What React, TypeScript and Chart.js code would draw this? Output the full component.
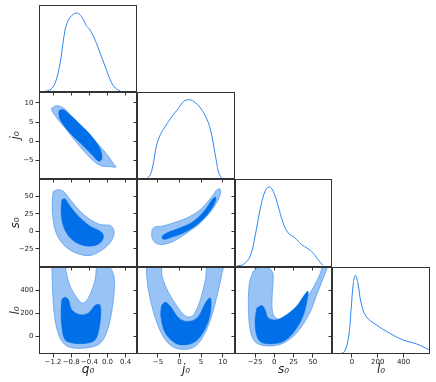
import React, { useEffect, useRef } from 'react';
import { Chart, registerables } from 'chart.js';
Chart.register(...registerables);

// ---- parameters ----
const paramLabels = ['q₀', 'j₀', 's₀', 'l₀'];
const qRange = [-1.51, 0.651];
const jRange = [-9.85, 12.86];
const sRange = [-51.1, 74.9];
const lRange = [-155, 605];
const qTicks = [-1.2, -0.8, -0.4, 0.0, 0.4];
const jTicks = [-5, 0, 5, 10];
const sTicks = [-25, 0, 25, 50];
const lTicks = [0, 200, 400];
const paramRanges = [qRange, jRange, sRange, lRange];
const paramTicks = [qTicks, jTicks, sTicks, lTicks];
const paramDecimals = [1, 0, 0, 0];

// ---- 1D marginals ----
const qGrid = [-1.377, -1.267, -1.156, -1.045, -0.972, -0.897, -0.787, -0.663, -0.565, -0.47, -0.382, -0.271, -0.16, -0.05, 0.061, 0.171, 0.282];
const qDensity = [0.007, 0.026, 0.1, 0.33, 0.596, 0.786, 0.88, 0.907, 0.861, 0.767, 0.71, 0.596, 0.444, 0.292, 0.14, 0.046, 0.011];
const jGrid = [-7.69, -6.76, -5.98, -5.37, -4.44, -3.28, -1.72, -0.19, 0.97, 2.13, 3.29, 4.85, 6.24, 7.17, 7.94, 8.56, 9.1, 9.88];
const jDensity = [0, 0.049, 0.202, 0.375, 0.509, 0.605, 0.72, 0.816, 0.892, 0.911, 0.892, 0.816, 0.701, 0.567, 0.375, 0.202, 0.069, 0];
const sGrid = [-48.5, -40.0, -31.4, -25.0, -18.5, -12.1, -6.6, -1.4, 5.0, 11.4, 17.9, 26.5, 35.1, 43.6, 50.1, 56.5, 62.9];
const sDensity = [0.011, 0.031, 0.124, 0.351, 0.653, 0.86, 0.91, 0.86, 0.69, 0.502, 0.389, 0.333, 0.257, 0.208, 0.163, 0.087, 0.019];
const lGrid = [-98, -59, -26, -7, 11, 27, 45, 71, 110, 188, 292, 395, 500, 603];
const lDensity = [0, 0.027, 0.2, 0.51, 0.82, 0.904, 0.82, 0.587, 0.432, 0.336, 0.24, 0.162, 0.116, 0.046];
const marginals = [[qGrid, qDensity], [jGrid, jDensity], [sGrid, sDensity], [lGrid, lDensity]];

// ---- 2D contours (outer = 95%, inner = 68%) ----
const qjOuter = [[-1.229, 8.7], [-1.118, 9.3], [-0.972, 8.7], [-0.787, 6.52], [-0.53, 3.5], [-0.233, -0.4], [-0.012, -3.44], [0.171, -6.48], [0.194, -6.74], [0.061, -6.64], [-0.16, -6.3], [-0.382, -4.3], [-0.676, -0.4], [-0.935, 3.5], [-1.118, 6.1], [-1.229, 8.08]];
const qjInner = [[-1.061, 8.08], [-0.972, 8.26], [-0.862, 7.22], [-0.641, 4.8], [-0.382, 1.76], [-0.16, -2.04], [-0.123, -4.64], [-0.198, -5.18], [-0.344, -3.44], [-0.603, -0.4], [-0.862, 2.62], [-1.045, 5.66], [-1.074, 7.4]];
const qsOuter = [[-1.194, 57.2], [-1.083, 59.6], [-0.972, 57.2], [-0.824, 45.4], [-0.603, 28.7], [-0.382, 16.9], [-0.16, 9.7], [0.061, 8.3], [0.134, 2.6], [0.134, -6.9], [0.023, -18.8], [-0.16, -28.3], [-0.382, -34.5], [-0.603, -33.0], [-0.897, -23.5], [-1.118, -4.5], [-1.207, 21.6], [-1.216, 45.4]];
const qsInner = [[-1.008, 45.4], [-0.935, 46.4], [-0.824, 35.8], [-0.641, 21.6], [-0.382, 7.3], [-0.16, 0.2], [-0.087, -6.9], [-0.16, -16.4], [-0.344, -21.2], [-0.603, -18.8], [-0.824, -9.2], [-0.972, 7.3], [-1.023, 26.4]];
const qlOuter = [[-1.229, 650], [-1.207, 379.6], [-1.156, 144.6], [-1.045, -16.5], [-0.897, -84.3], [-0.676, -104.5], [-0.382, -95.7], [-0.16, -60.5], [-0.012, 41.6], [0.1, 232.6], [0.156, 452.7], [0.134, 540.7], [0.061, 599.7], [0.017, 650], [-0.205, 650], [-0.271, 496.7], [-0.382, 364.7], [-0.493, 296.9], [-0.565, 291.6], [-0.676, 335.6], [-0.824, 437.7], [-0.913, 567], [-0.935, 650]];
const qlInner = [[-1.008, 320.7], [-0.935, 340.9], [-0.862, 320.7], [-0.787, 232.6], [-0.603, 188.6], [-0.419, 203.6], [-0.271, 270.5], [-0.176, 276.7], [-0.145, 232.6], [-0.176, 85.6], [-0.271, -31.4], [-0.455, -60.5], [-0.751, -60.5], [-0.935, -31.4], [-1.008, 85.6], [-1.023, 232.6]];
const jsOuter = [[-6.37, 2.6], [-5.6, 6.5], [-4.05, 7.3], [-1.35, 12.2], [1.76, 19.3], [4.85, 31.1], [7.56, 50.1], [8.86, 60.6], [9.49, 59.6], [9.33, 50.1], [7.56, 31.1], [4.85, 12.2], [1.76, -2.1], [-1.35, -14.1], [-4.05, -18.8], [-5.6, -16.4], [-6.37, -9.2]];
const jsInner = [[-4.05, -6.9], [-2.88, -2.1], [0.2, 5.0], [3.29, 14.4], [6.01, 31.1], [7.56, 45.4], [8.33, 49.2], [8.33, 42.9], [6.77, 26.4], [4.08, 9.7], [0.97, -2.1], [-2.12, -9.2], [-3.67, -11.7], [-4.05, -9.2]];
const jlOuter = [[-7.69, 655], [-7.53, 496.7], [-6.76, 320.7], [-5.21, 115.6], [-3.28, -31.4], [-1.35, -95.7], [0.97, -113.3], [3.29, -95.7], [5.24, -16.5], [7.17, 144.6], [8.86, 379.6], [9.88, 555.7], [10.26, 655], [6.77, 655], [6.01, 496.7], [4.85, 320.7], [3.29, 188.6], [2.13, 168.4], [0.97, 188.6], [-0.56, 261.7], [-2.51, 379.6], [-4.05, 525.8], [-4.44, 655]];
const jlInner = [[-4.05, 276.7], [-3.28, 296.9], [-2.12, 261.7], [-0.19, 159.6], [1.76, 129.6], [4.08, 159.6], [6.01, 291.6], [7.01, 335.6], [7.33, 305.7], [7.01, 173.7], [5.61, 41.6], [3.69, -46.4], [1.36, -75.5], [-0.96, -60.5], [-3.28, 27.5], [-4.28, 159.6], [-4.28, 247.6]];
const slOuter = [[-27.2, 569.8], [-21.1, 598], [-12.1, 602], [-5.0, 584.8], [-1.8, 540.7], [-1.8, 452.7], [-3.1, 320.7], [-1.8, 197.4], [4.6, 149], [12.4, 144.6], [21.4, 179.8], [33.0, 250.2], [45.9, 373.5], [56.2, 496.7], [61.3, 584.8], [63.8, 655], [70.3, 655], [69.0, 602], [61.3, 470.3], [54.4, 349.7], [45.9, 203.6], [28.7, 27.5], [11.4, -60.5], [-5.7, -84.3], [-22.8, -60.5], [-30.5, 27.5], [-33.6, 232.6], [-32.3, 467.7]];
const slInner = [[-22.8, 247.6], [-16.3, 267.9], [-12.1, 232.6], [-7.9, 159.6], [3.0, 144.6], [15.8, 188.6], [28.7, 261.7], [39.4, 364.7], [43.6, 393.7], [43.6, 349.7], [37.2, 173.7], [24.3, 27.5], [11.4, -46.4], [-5.7, -66.6], [-18.5, -46.4], [-23.7, 27.5], [-25.0, 144.6]];
const contours: any = {
  '1,0': [qjOuter, qjInner],
  '2,0': [qsOuter, qsInner],
  '3,0': [qlOuter, qlInner],
  '2,1': [jsOuter, jsInner],
  '3,1': [jlOuter, jlInner],
  '3,2': [slOuter, slInner],
};

// ---- layout & style ----
const COL_X = [39, 137, 235, 332, 430];
const ROW_Y = [5, 92, 179, 267, 354];
const LEFT = 39;
const PAD = 8;
const BOTTOM = 28;
const AX = '#333333';
const TXT = '#222222';
const LINE = '#2a86ee';
const LIGHT = '#99c3f5';
const EDGE = '#5b9ef0';
const DARK = '#006fe8';
const tickFont = { family: 'DejaVu Sans', size: 7 };
const titleFont = { family: 'DejaVu Sans', size: 12, style: 'italic' as const };

const fmt = (v: number, d: number) => (d ? v.toFixed(d) : String(v)).replace('-', '\u2212');

const framePlugin = {
  id: 'frame',
  afterDraw(chart: any) {
    const { ctx, chartArea } = chart;
    const l = Math.round(chartArea.left) + 0.5;
    const t = Math.round(chartArea.top) + 0.5;
    const r = Math.round(chartArea.right) - 0.5;
    const b = Math.round(chartArea.bottom) - 0.5;
    ctx.save();
    ctx.strokeStyle = AX;
    ctx.lineWidth = 1;
    ctx.strokeRect(l, t, r - l, b - t);
    ctx.restore();
  },
};

const gridOpts = { display: true, drawOnChartArea: false, drawTicks: true, tickLength: 3.5, tickColor: AX, color: AX, tickWidth: 1 };

function xScale(c: number, r: number) {
  const [min, max] = paramRanges[c];
  return {
    type: 'linear', position: 'bottom', min, max,
    afterBuildTicks: (s: any) => { s.ticks = paramTicks[c].map((v) => ({ value: v })); },
    afterFit: (s: any) => { s.height = BOTTOM; s.paddingLeft = 0; s.paddingRight = 0; },
    ticks: { display: r === 3, autoSkip: false, maxRotation: 0, padding: 0, color: TXT, font: tickFont, callback: (v: any) => fmt(Number(v), paramDecimals[c]) },
    grid: gridOpts,
    border: { display: false },
    title: { display: r === 3, text: paramLabels[c], color: TXT, font: titleFont, padding: { top: 0, bottom: 5 } },
  };
}

function yScale(r: number, showLabels: boolean) {
  const [min, max] = paramRanges[r];
  return {
    type: 'linear', position: 'left', min, max,
    afterBuildTicks: (s: any) => { s.ticks = paramTicks[r].map((v) => ({ value: v })); },
    afterFit: (s: any) => { s.width = LEFT; s.paddingTop = 0; s.paddingBottom = 0; },
    ticks: { display: showLabels, autoSkip: false, padding: 2, color: TXT, font: tickFont, callback: (v: any) => fmt(Number(v), paramDecimals[r]) },
    grid: gridOpts,
    border: { display: false },
    title: { display: showLabels, text: paramLabels[r], color: TXT, font: titleFont, padding: { top: 9, bottom: 0 } },
  };
}

const toPts = (arr: number[][]) => [...arr, arr[0]].map(([x, y]) => ({ x, y }));

function makeConfig(r: number, c: number): any {
  let datasets: any[];
  let scales: any;
  if (r === c) {
    const [grid, dens] = marginals[c];
    datasets = [{
      data: grid.map((x, i) => ({ x, y: dens[i] })), xAxisID: 'x', yAxisID: 'y',
      borderColor: LINE, borderWidth: 1, pointRadius: 0, fill: false, tension: 0.4,
    }];
    const yr: any = r > 0 ? yScale(r, false) : {
      type: 'linear', position: 'left', min: 0, max: 1,
      ticks: { display: false }, grid: { display: false }, border: { display: false },
      afterFit: (s: any) => { s.width = LEFT; s.paddingTop = 0; s.paddingBottom = 0; },
    };
    scales = { x: xScale(c, r), y: { type: 'linear', display: false, min: 0, max: 1 }, yr };
  } else {
    const [outer, inner] = contours[`${r},${c}`];
    datasets = [
      { data: toPts(inner), xAxisID: 'x', yAxisID: 'y', fill: 'shape', backgroundColor: DARK, borderColor: DARK, borderWidth: 0.5, pointRadius: 0, tension: 0.35 },
      { data: toPts(outer), xAxisID: 'x', yAxisID: 'y', fill: 'shape', backgroundColor: LIGHT, borderColor: EDGE, borderWidth: 0.8, pointRadius: 0, tension: 0.35 },
    ];
    scales = { x: xScale(c, r), y: yScale(r, c === 0) };
  }
  return {
    type: 'line',
    data: { datasets },
    options: {
      responsive: false, animation: false, events: [],
      layout: { padding: { left: 0, top: PAD, right: PAD, bottom: 0 } },
      plugins: { legend: { display: false }, tooltip: { enabled: false } },
      scales,
    },
    plugins: [framePlugin],
  };
}

function Panel({ r, c }: { r: number; c: number }) {
  const ref = useRef<HTMLCanvasElement>(null);
  const pl = COL_X[c], pr = COL_X[c + 1], pt = ROW_Y[r], pb = ROW_Y[r + 1];
  const w = pr - pl + LEFT + PAD;
  const h = pb - pt + PAD + BOTTOM;
  useEffect(() => {
    const chart = new Chart(ref.current as HTMLCanvasElement, makeConfig(r, c));
    return () => chart.destroy();
  }, [r, c]);
  return (
    <canvas ref={ref} width={w} height={h}
      style={{ position: 'absolute', left: pl - LEFT, top: pt - PAD, width: w, height: h }} />
  );
}

export default function App() {
  const panels: any[] = [];
  for (let r = 0; r < 4; r++) {
    for (let c = 0; c <= r; c++) panels.push(<Panel key={`${r}-${c}`} r={r} c={c} />);
  }
  return (
    <div style={{ position: 'absolute', left: 0, top: 0, width: 436, height: 382, background: '#fff', overflow: 'hidden' }}>
      {panels}
    </div>
  );
}
